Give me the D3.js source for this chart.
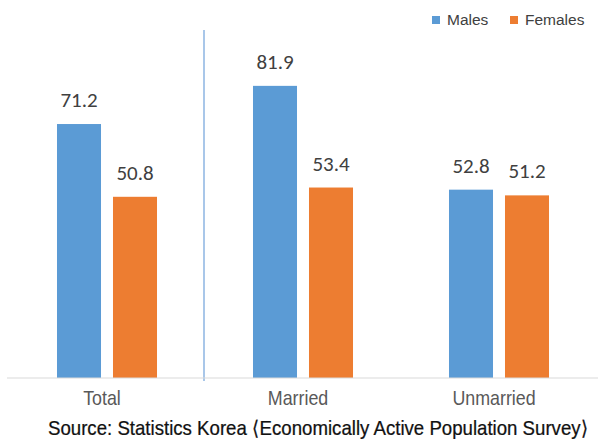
<!DOCTYPE html>
<html>
<head>
<meta charset="utf-8">
<script src="https://cdn.jsdelivr.net/npm/d3@7"></script>
<style>
  html, body { margin: 0; padding: 0; background: #fff; }
  svg { display: block; }
</style>
</head>
<body>
<svg id="chart" width="598" height="444"></svg>
<script>
// Economic activity participation rate by marital status
const categories = ["Total", "Married", "Unmarried"];
const seriesNames = ["Males", "Females"];
const males = [71.2, 81.9, 52.8];
const females = [50.8, 53.4, 51.2];
const sourceNote = "Source: Statistics Korea \u27E8Economically Active Population Survey\u27E9";

const colors = { Males: "#5B9BD5", Females: "#ED7D31" };
const values = { Males: males, Females: females };

const svg = d3.select("#chart");
const baseY = 378;

const x = d3.scaleBand().domain(categories).range([9, 597]).paddingInner(0).paddingOuter(0);
const xs = d3.scaleBand().domain(seriesNames).range([0, x.bandwidth()]).paddingInner(0.214).paddingOuter(0.857);
const y = d3.scaleLinear().domain([0, 100]).range([baseY, 21.3]);

const data = categories.flatMap((c, i) =>
  seriesNames.map(s => ({ cat: c, series: s, value: values[s][i] })));

// divider between total and by-status groups
svg.append("line")
  .attr("x1", 204).attr("x2", 204)
  .attr("y1", 30).attr("y2", baseY + 3)
  .attr("stroke", "#8DB4E2").attr("stroke-width", 1.5);

// bars
svg.append("g").selectAll("rect").data(data).join("rect")
  .attr("x", d => x(d.cat) + xs(d.series))
  .attr("width", xs.bandwidth())
  .attr("y", d => y(d.value))
  .attr("height", d => baseY - y(d.value))
  .attr("fill", d => colors[d.series]);

// value labels
svg.append("g").selectAll("text").data(data).join("text")
  .attr("x", d => x(d.cat) + xs(d.series) + xs.bandwidth() / 2)
  .attr("y", d => y(d.value) - 17)
  .attr("text-anchor", "middle")
  .attr("font-family", "Carlito, 'Open Sans', sans-serif")
  .attr("font-size", 21)
  .attr("fill", "#404040")
  .text(d => d.value.toFixed(1));

// baseline axis with condensed category labels
const xAxis = svg.append("g").attr("transform", `translate(0,${baseY})`)
  .call(d3.axisBottom(x).tickSize(0).tickPadding(0));
xAxis.select(".domain").attr("stroke", "#d9d9d9").attr("stroke-width", 1.2)
  .attr("d", "M7,0H598");
xAxis.selectAll(".tick text")
  .attr("dy", 0).attr("y", 27)
  .attr("transform", "translate(-5,0) scale(0.85,1)")
  .attr("font-family", "'Liberation Sans', Arial, sans-serif")
  .attr("font-size", 21)
  .attr("fill", "#595959");

// legend
const legend = svg.append("g");
const legendX = [432, 510];
seriesNames.forEach((s, i) => {
  const g = legend.append("g").attr("transform", `translate(${legendX[i]},16)`);
  g.append("rect").attr("width", 8).attr("height", 8).attr("fill", colors[s]);
  g.append("text").attr("x", 15).attr("y", 8.5)
    .attr("font-family", "'Liberation Sans', Arial, sans-serif")
    .attr("font-size", 15.5).attr("fill", "#404040").text(s);
});

// source note, horizontally condensed to fit the line
const noteG = svg.append("g").attr("transform", "translate(48,435)");
const note = noteG.append("text")
  .attr("x", 0).attr("y", 0)
  .attr("font-family", "'Liberation Sans', Arial, sans-serif")
  .attr("font-size", 20.5)
  .attr("fill", "#111")
  .attr("stroke", "#111").attr("stroke-width", 0.25)
  .text(sourceNote);
const natural = note.node().getComputedTextLength();
note.attr("transform", `scale(${540 / natural},1)`);
</script>
</body>
</html>
